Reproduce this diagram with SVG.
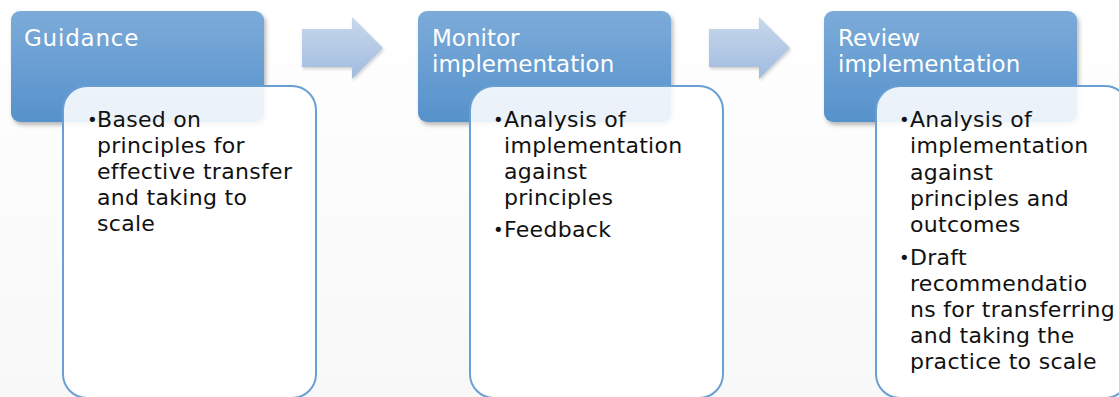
<svg xmlns="http://www.w3.org/2000/svg" width="1119" height="397" viewBox="0 0 1119 397">
  <defs>
    <linearGradient id="bg" x1="0" y1="0" x2="0" y2="1">
      <stop offset="0" stop-color="#ffffff"/>
      <stop offset="1" stop-color="#f8f8f8"/>
    </linearGradient>
    <linearGradient id="headFill" x1="0" y1="0" x2="0" y2="1">
      <stop offset="0" stop-color="#7cabd9"/>
      <stop offset="1" stop-color="#5692cb"/>
    </linearGradient>
    <linearGradient id="arrowFill" x1="0" y1="0" x2="0" y2="1">
      <stop offset="0" stop-color="#c8d8ec"/>
      <stop offset="1" stop-color="#a0bbdf"/>
    </linearGradient>
    <filter id="shadow" x="-10%" y="-10%" width="125%" height="130%">
      <feDropShadow dx="2" dy="3" stdDeviation="2" flood-color="#000" flood-opacity="0.28"/>
    </filter>
    <filter id="softShadow" x="-10%" y="-10%" width="125%" height="130%">
      <feDropShadow dx="1" dy="2" stdDeviation="1.5" flood-color="#000" flood-opacity="0.18"/>
    </filter>
  </defs>
  <style>
    .head { fill: url(#headFill); filter: url(#shadow); }
    .card { fill: #ffffff; fill-opacity: 0.88; stroke: #6a9fd4; stroke-width: 2; }
    .arrow { fill: url(#arrowFill); filter: url(#softShadow); }
    .title { font-family: "DejaVu Sans", "Liberation Sans", sans-serif; font-size: 23px; fill: #ffffff; }
    .body { font-family: "DejaVu Sans", "Liberation Sans", sans-serif; font-size: 22px; letter-spacing: 0.3px; fill: #111111; }
    .dot { font-size: 18px; letter-spacing: 0; }
  </style>

  <rect width="1119" height="397" fill="url(#bg)"/>

  <!-- step arrows between stages -->
  <g id="connectors">
    <polygon class="arrow" points="302,29 352,29 352,17 383,48 352,79 352,67 302,67"/>
    <polygon class="arrow" points="709,29 759,29 759,17 790,48 759,79 759,67 709,67"/>
  </g>

  <!-- stage 1 -->
  <g id="guidance">
    <rect class="head" x="11" y="11" width="253" height="111" rx="9"/>
    <text class="title" x="24" y="46" letter-spacing="0.8">Guidance</text>
    <rect class="card" x="63" y="86" width="253" height="312" rx="24"/>
    <text class="body">
      <tspan class="dot" x="87" y="126">•</tspan><tspan x="97" y="127">Based on</tspan>
      <tspan x="97" y="153">principles for</tspan>
      <tspan x="97" y="179">effective transfer</tspan>
      <tspan x="97" y="205">and taking to</tspan>
      <tspan x="97" y="231">scale</tspan>
    </text>
  </g>

  <!-- stage 2 -->
  <g id="monitor">
    <rect class="head" x="418" y="11" width="253" height="111" rx="9"/>
    <text class="title"><tspan x="432" y="46">Monitor</tspan><tspan x="432" y="72">implementation</tspan></text>
    <rect class="card" x="470" y="86" width="253" height="312" rx="24"/>
    <text class="body">
      <tspan class="dot" x="493" y="126">•</tspan><tspan x="504" y="127">Analysis of</tspan>
      <tspan x="504" y="153">implementation</tspan>
      <tspan x="504" y="179">against</tspan>
      <tspan x="504" y="205">principles</tspan>
      <tspan class="dot" x="493" y="236">•</tspan><tspan x="504" y="237">Feedback</tspan>
    </text>
  </g>

  <!-- stage 3 -->
  <g id="review">
    <rect class="head" x="824" y="11" width="253" height="111" rx="9"/>
    <text class="title"><tspan x="838" y="46">Review</tspan><tspan x="838" y="72">implementation</tspan></text>
    <rect class="card" x="876" y="86" width="253" height="312" rx="24"/>
    <text class="body">
      <tspan class="dot" x="899" y="126">•</tspan><tspan x="910" y="127">Analysis of</tspan>
      <tspan x="910" y="153">implementation</tspan>
      <tspan x="910" y="180">against</tspan>
      <tspan x="910" y="206">principles and</tspan>
      <tspan x="910" y="232">outcomes</tspan>
      <tspan class="dot" x="899" y="264">•</tspan><tspan x="910" y="265">Draft</tspan>
      <tspan x="910" y="291">recommendatio</tspan>
      <tspan x="910" y="317">ns for transferring</tspan>
      <tspan x="910" y="343">and taking the</tspan>
      <tspan x="910" y="369">practice to scale</tspan>
    </text>
  </g>
</svg>
